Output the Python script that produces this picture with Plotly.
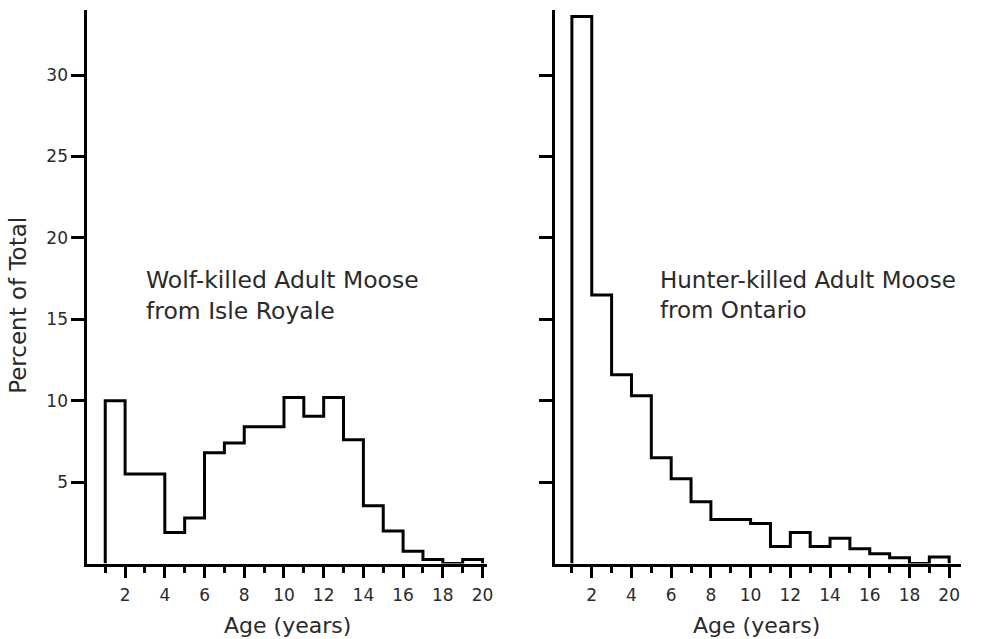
import plotly.graph_objects as go

# Age bins: bin k covers [k, k+1) years, k = 1..19
age_bins = list(range(1, 20))
wolf_killed = [10.0, 5.5, 5.5, 1.9, 2.8, 6.8, 7.4, 8.4, 8.4, 10.2, 9.05, 10.2, 7.6, 3.55, 2.0, 0.75, 0.25, 0.0, 0.25]
hunter_killed = [33.6, 16.5, 11.6, 10.3, 6.5, 5.2, 3.8, 2.7, 2.7, 2.45, 1.05, 1.9, 1.05, 1.55, 0.9, 0.6, 0.35, 0.0, 0.4]
x_ticks = [2, 4, 6, 8, 10, 12, 14, 16, 18, 20]
y_ticks = [5, 10, 15, 20, 25, 30]

W, H = 981, 639
FONT = "DejaVu Sans"
TXT = "#2a2a2a"


def step_xy(vals):
    xs = [age_bins[0]] + age_bins + [age_bins[-1] + 1]
    ys = [0] + vals + [0]
    return xs, ys


fig = go.Figure()
for vals, xa, ya in [(wolf_killed, "x", "y"), (hunter_killed, "x2", "y2")]:
    xs, ys = step_xy(vals)
    fig.add_trace(go.Scatter(x=xs, y=ys, mode="lines", line=dict(shape="hv", color="black", width=3),
                             xaxis=xa, yaxis=ya, showlegend=False, hoverinfo="skip"))

ydom = [1 - 563.5 / H, 1 - 10 / H]
axis_common = dict(showline=True, linecolor="black", linewidth=3, showgrid=False, zeroline=False,
                   ticks="outside", tickcolor="black", tickwidth=3)

xcommon = dict(axis_common, tickvals=x_ticks, ticklen=11, ticklabelstandoff=3,
               tickfont=dict(family=FONT, size=17, color=TXT),
               minor=dict(dtick=1, tick0=0, ticks="outside", ticklen=6, tickwidth=3, tickcolor="black"))

fig.update_layout(
    width=W, height=H, margin=dict(l=0, r=0, t=0, b=0),
    paper_bgcolor="white", plot_bgcolor="white",
    xaxis=dict(xcommon, domain=[88 / W, 490 / W], range=[0.1, 20.2], anchor="y"),
    xaxis2=dict(xcommon, domain=[559 / W, 968 / W], range=[0.15, 20.6], anchor="y2"),
    yaxis=dict(axis_common, domain=ydom, range=[0, 34], tickvals=y_ticks, ticklen=13,
               tickfont=dict(family=FONT, size=17, color=TXT), anchor="x"),
    yaxis2=dict(axis_common, domain=ydom, range=[0, 34], tickvals=y_ticks, ticklen=13,
                showticklabels=False, anchor="x2"),
    annotations=[
        dict(text="Percent of Total", x=18 / W, y=1 - 305 / H, xref="paper", yref="paper",
             xanchor="center", yanchor="middle",
             textangle=-90, showarrow=False, font=dict(family=FONT, size=23, color=TXT)),
        dict(text="Age (years)", x=290 / W, y=1 - 625 / H, xref="paper", yref="paper",
             xanchor="center", yanchor="middle",
             showarrow=False, font=dict(family=FONT, size=22, color=TXT)),
        dict(text="Age (years)", x=762 / W, y=1 - 625 / H, xref="paper", yref="paper",
             xanchor="center", yanchor="middle",
             showarrow=False, font=dict(family=FONT, size=22, color=TXT)),
        dict(text="Wolf-killed Adult Moose<br>from Isle Royale", x=145 / W, y=1 - 295 / H,
             xref="paper", yref="paper", xanchor="left", yanchor="middle", align="left",
             showarrow=False, font=dict(family=FONT, size=23.5, color=TXT)),
        dict(text="Hunter-killed Adult Moose<br>from Ontario", x=663 / W, y=1 - 295 / H,
             xref="paper", yref="paper", xanchor="left", yanchor="middle", align="left",
             showarrow=False, font=dict(family=FONT, size=23, color=TXT)),
    ],
)

fig.write_html("out.html")
